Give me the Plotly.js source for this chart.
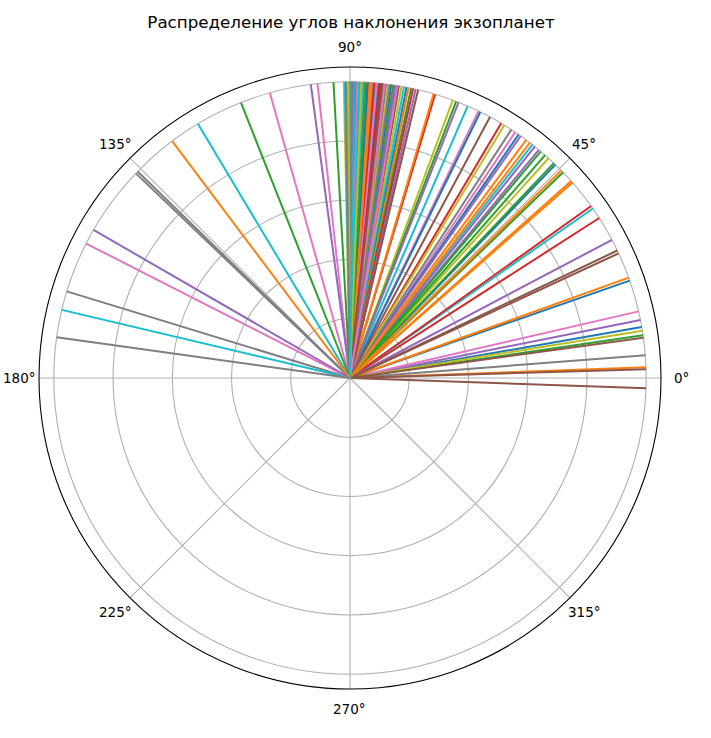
<!DOCTYPE html>
<html>
<head>
<meta charset="utf-8">
<script src="https://cdn.plot.ly/plotly-3.0.1.min.js"></script>
<style>
html,body{margin:0;padding:0;background:#fff;}
#chart{width:711px;height:738px;}
</style>
</head>
<body>
<div id="chart"></div>
<script>
// Inclination angles (degrees), in plotting order (color cycles through tab10)
const inclinations = [
  9.9, 2.1, 8.3, 32.7, 11.3, -2.0, 13.0, 4.4, 9.2, 34.9,
  19.2, 19.8, 44.0, 35.5, 27.8, 1.7, 56.1, 57.0, 47.9, 52.0,
  46.1, 41.3, 46.5, 59.3, 50.4, 7.8, 64.3, 135.8, 58.6, 66.6,
  55.3, 41.7, 48.8, 73.3, 51.4, 24.9, 96.3, 136.3, 69.7, 120.9,
  63.9, 44.5, 49.9, 89.6, 54.8, 25.5, 105.7, 163.0, 91.2, 166.7,
  89.8, 52.6, 69.0, 88.7, 68.5, 61.8, 153.0, 172.1, 90.6, 91.0,
  90.0, 53.5, 93.2, 87.9, 97.6, 89.3, 89.0, 88.4, 87.6, 89.9,
  88.9, 73.6, 111.6, 86.4, 150.0, 87.2, 86.0, 85.6, 86.8, 85.0,
  84.5, 126.9, 88.1, 84.0, 89.4, 83.6, 88.6, 83.0, 82.6, 87.4,
  82.0, 86.2, 81.6, 85.3, 81.0, 80.5, 84.8, 89.7, 80.0, 79.5,
  79.0, 78.6, 78.1, 77.7, 77.2, 76.7, 83.3, 82.3, 90.3, 88.2,
  86.6, 85.8, 87.0, 84.2, 81.3, 83.8, 80.8, 90.8, 87.8, 89.1
];
const radius = [0, 1];
const angleTicks = [0, 45, 90, 135, 180, 225, 270, 315];
const angleTickLabels = ["0°", "45°", "90°", "135°", "180°", "225°", "270°", "315°"];
const radialTicks = [0.2, 0.4, 0.6, 0.8, 1.0];
const titleText = "Распределение углов наклонения экзопланет";

const palette = ["#1f77b4","#ff7f0e","#2ca02c","#d62728","#9467bd",
                 "#8c564b","#e377c2","#7f7f7f","#bcbd22","#17becf"];

const traces = inclinations.map((a, i) => ({
  type: "scatterpolar",
  mode: "lines",
  r: radius,
  theta: [a, a],
  line: {color: palette[i % 10], width: 2},
  hoverinfo: "skip",
  showlegend: false
}));

const W = 711, H = 738;
const cx = 350, cy = 378, R = 311, labelDist = 331;

// angular tick labels centred at a fixed distance outside the outer circle (matplotlib style)
const tickAnnotations = angleTicks.map((a, i) => {
  const rad = a * Math.PI / 180;
  return {
    xref: "paper", yref: "paper",
    x: (cx + labelDist * Math.cos(rad)) / W,
    y: (H - (cy - labelDist * Math.sin(rad))) / H,
    xanchor: "center", yanchor: "middle",
    text: angleTickLabels[i],
    showarrow: false,
    font: {family: "DejaVu Sans", size: 13.5, color: "#000"}
  };
});

const layout = {
  width: W, height: H,
  margin: {l: 0, r: 0, t: 0, b: 0},
  paper_bgcolor: "#fff",
  plot_bgcolor: "#fff",
  font: {family: "DejaVu Sans", size: 13, color: "#000"},
  title: {
    text: titleText,
    font: {family: "DejaVu Sans", size: 16.7, color: "#000"},
    x: (cx + 1) / W, xanchor: "center",
    y: 1 - 22 / H, yanchor: "middle"
  },
  showlegend: false,
  annotations: tickAnnotations,
  polar: {
    domain: {
      x: [(cx - R) / W, (cx + R) / W],
      y: [(H - cy - R) / H, (H - cy + R) / H]
    },
    bgcolor: "#fff",
    radialaxis: {
      range: [0, 1.05],
      tickvals: radialTicks,
      showticklabels: false,
      ticks: "",
      showline: false,
      gridcolor: "#b0b0b0",
      gridwidth: 1.1
    },
    angularaxis: {
      direction: "counterclockwise",
      rotation: 0,
      tickvals: angleTicks,
      showticklabels: false,
      ticks: "",
      showline: true,
      linecolor: "#000",
      linewidth: 1.1,
      gridcolor: "#b0b0b0",
      gridwidth: 1.1
    }
  }
};

Plotly.newPlot("chart", traces, layout, {displayModeBar: false, staticPlot: true});
</script>
</body>
</html>
